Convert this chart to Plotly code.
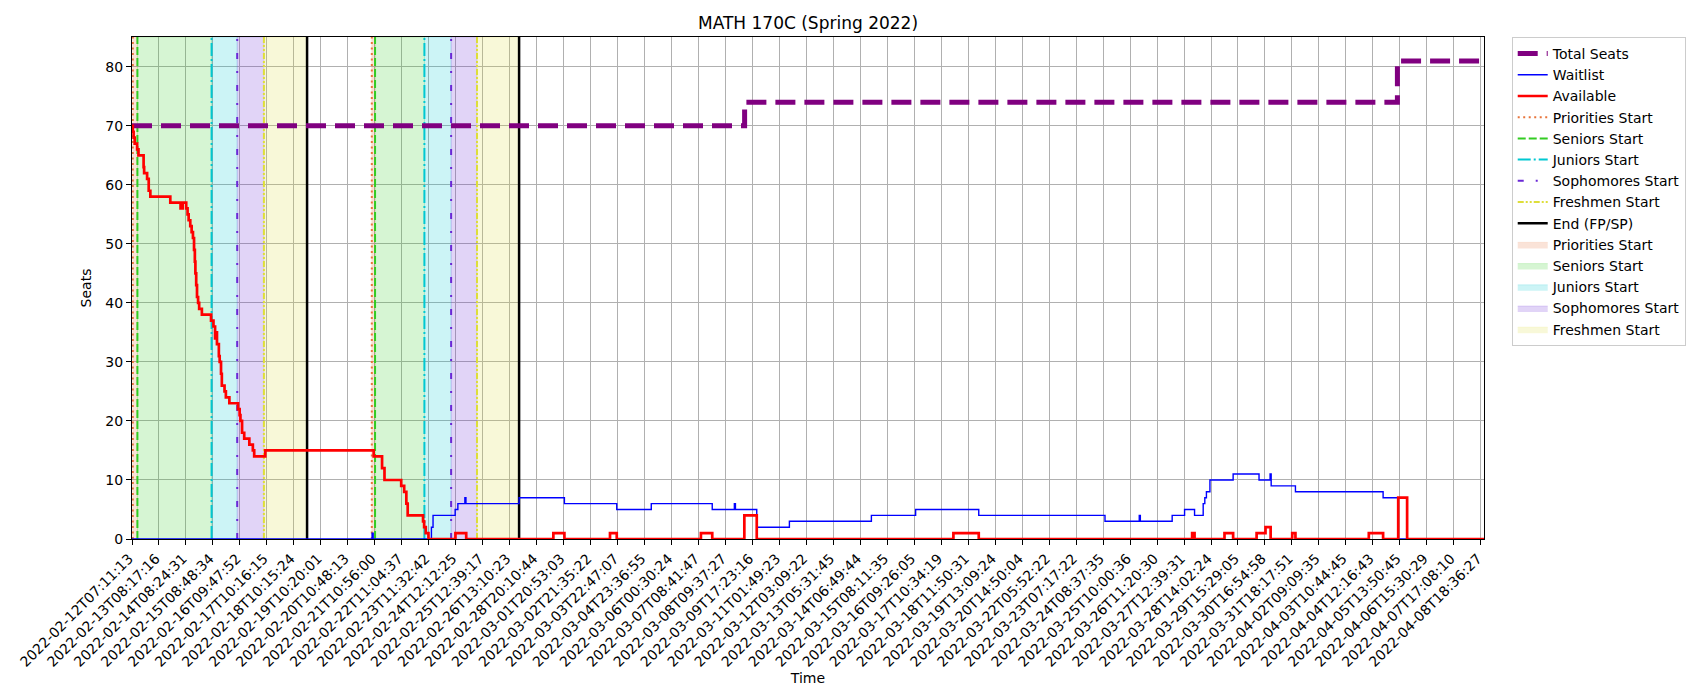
import plotly.graph_objects as go

# Tick labels (one every N snapshots on the categorical time axis)
tick_labels = [
    "2022-02-12T07:11:13", "2022-02-13T08:17:16", "2022-02-14T08:24:31", "2022-02-15T08:48:34",
    "2022-02-16T09:47:52", "2022-02-17T10:16:15", "2022-02-18T10:15:24", "2022-02-19T10:20:01",
    "2022-02-20T10:48:13", "2022-02-21T10:56:00", "2022-02-22T11:04:37", "2022-02-23T11:32:42",
    "2022-02-24T12:12:25", "2022-02-25T12:39:17", "2022-02-26T13:10:23", "2022-02-28T20:10:44",
    "2022-03-01T20:53:03", "2022-03-02T21:35:22", "2022-03-03T22:47:07", "2022-03-04T23:36:55",
    "2022-03-06T00:30:24", "2022-03-07T08:41:47", "2022-03-08T09:37:27", "2022-03-09T17:23:16",
    "2022-03-11T01:49:23", "2022-03-12T03:09:22", "2022-03-13T05:31:45", "2022-03-14T06:49:44",
    "2022-03-15T08:11:35", "2022-03-16T09:26:05", "2022-03-17T10:34:19", "2022-03-18T11:50:31",
    "2022-03-19T13:09:24", "2022-03-20T14:50:04", "2022-03-22T05:52:22", "2022-03-23T07:17:22",
    "2022-03-24T08:37:35", "2022-03-25T10:00:36", "2022-03-26T11:20:30", "2022-03-27T12:39:31",
    "2022-03-28T14:02:24", "2022-03-29T15:29:05", "2022-03-30T16:54:58", "2022-03-31T18:17:51",
    "2022-04-02T09:09:35", "2022-04-03T10:44:45", "2022-04-04T12:16:43", "2022-04-05T13:50:45",
    "2022-04-06T15:30:29", "2022-04-07T17:08:10", "2022-04-08T18:36:27",
]

# series as step change points (x in tick-label units)
total_x = [0.0, 22.71, 46.91, 50.12]
total_y = [70, 74, 81, 81]

wait_x = [0.0, 8.90, 8.94, 11.10, 11.16, 11.98, 12.08, 12.34, 12.38, 14.35, 16.03, 17.97,
          19.25, 21.51, 22.33, 22.37, 23.16, 24.37, 27.41, 29.05, 31.39, 36.07, 37.34, 37.38,
          38.56, 39.02, 39.39, 39.71, 39.77, 39.83, 39.96, 40.82, 41.78, 42.19, 42.23, 43.13,
          46.38, 46.94, 50.12]
wait_y = [0, 1, 0, 2, 4, 5, 6, 7, 6, 7, 6, 5,
          6, 5, 6, 5, 2, 3, 4, 5, 4, 3, 4, 3,
          4, 5, 4, 6, 7, 8, 10, 11, 10, 11, 9, 8,
          7, 0, 0]

avail_x = [0.0, 0.03, 0.06, 0.10, 0.19, 0.24, 0.43, 0.45, 0.56, 0.62, 0.68, 1.42, 1.80, 1.83,
           1.86, 1.88, 2.01, 2.06, 2.10, 2.16, 2.21, 2.26, 2.30, 2.33, 2.35, 2.38, 2.41, 2.45,
           2.49, 2.59, 2.93, 3.02, 3.08, 3.11, 3.15, 3.22, 3.25, 3.30, 3.33, 3.43, 3.48, 3.61,
           3.93, 3.99, 4.02, 4.08, 4.16, 4.35, 4.48, 4.53, 4.94, 8.96, 9.27, 9.36, 9.98, 10.09,
           10.17, 10.22, 10.79, 10.83, 10.89, 10.99, 11.99, 12.39, 15.62, 16.03, 17.72, 17.97,
           21.09, 21.51, 22.70, 23.16, 30.45, 31.39, 39.30, 39.39, 40.50, 40.82, 41.69, 42.02,
           42.21, 43.01, 43.13, 45.85, 46.38, 46.94, 47.27, 50.12]
avail_y = [70, 69, 68, 67, 66, 65, 63, 62, 61, 59, 58, 57, 56, 57,
           56, 57, 56, 55, 54, 53, 52, 51, 49, 47, 45, 43, 41, 40,
           39, 38, 37, 36, 34, 35, 33, 31, 30, 28, 26, 25, 24, 23,
           22, 21, 20, 18, 17, 16, 15, 14, 15, 14, 12, 10, 9, 8,
           6, 4, 3, 2, 1, 0, 1, 0, 1, 0, 1, 0,
           1, 0, 4, 0, 1, 0, 1, 0, 1, 0, 1, 2,
           0, 1, 0, 1, 0, 7, 0, 0]

# enrollment phase starts (two passes: first pass / second pass)
priorities_start = [0.03, 8.89]
seniors_start = [0.20, 9.01]
juniors_start = [2.95, 10.84]
sophomores_start = [3.90, 11.83]
freshmen_start = [4.89, 12.79]
end_fpsp = [6.49, 14.35]

Y_TOP = 85.05
X_END = 50.12

phases = [
    ("Priorities Start", priorities_start, seniors_start, "#e8743b", "2px,3.5px", "rgba(232,116,59,0.2)"),
    ("Seniors Start", seniors_start, juniors_start, "#33cc22", "8px,3px", "rgba(51,204,34,0.2)"),
    ("Juniors Start", juniors_start, sophomores_start, "#00c8d2", "13px,3px,2px,3px", "rgba(0,200,210,0.2)"),
    ("Sophomores Start", sophomores_start, freshmen_start, "#6a28d6", "6px,12px,2px,12px", "rgba(106,40,214,0.2)"),
    ("Freshmen Start", freshmen_start, end_fpsp, "#dede3a", "6px,2px,2px,2px,2px,2px", "rgba(222,222,58,0.2)"),
]

fig = go.Figure()

# shaded spans
rank = 200
for name, starts, ends, col, dash, fillcol in phases:
    xs, ys = [], []
    for s, e in zip(starts, ends):
        xs += [s, e, e, s, s, None]
        ys += [0, 0, Y_TOP, Y_TOP, 0, None]
    fig.add_trace(go.Scatter(x=xs, y=ys, fill="toself", fillcolor=fillcol, mode="lines",
                             line=dict(width=0.8, color=fillcol), name=name,
                             legendrank=rank, hoverinfo="skip"))
    rank += 1

# phase start lines
rank = 100
for name, starts, ends, col, dash, fillcol in phases:
    xs, ys = [], []
    for s in starts:
        xs += [s, s, None]
        ys += [0, Y_TOP, None]
    fig.add_trace(go.Scatter(x=xs, y=ys, mode="lines", line=dict(color=col, width=2, dash=dash),
                             name=name, legendrank=rank))
    rank += 1

xs, ys = [], []
for s in end_fpsp:
    xs += [s, s, None]
    ys += [0, Y_TOP, None]
fig.add_trace(go.Scatter(x=xs, y=ys, mode="lines", line=dict(color="black", width=2.5),
                         name="End (FP/SP)", legendrank=150))

fig.add_trace(go.Scatter(x=total_x, y=total_y, mode="lines", line_shape="hv",
                         line=dict(color="purple", width=5, dash="20px,9px"),
                         name="Total Seats", legendrank=1))
fig.add_trace(go.Scatter(x=wait_x, y=wait_y, mode="lines", line_shape="hv",
                         line=dict(color="blue", width=1.4), name="Waitlist", legendrank=2))
fig.add_trace(go.Scatter(x=avail_x, y=avail_y, mode="lines", line_shape="hv",
                         line=dict(color="red", width=2.7), name="Available", legendrank=3))

# page body has an 8px margin, so the figure is a bit smaller than the window
fig.update_layout(
    width=1692, height=692,
    plot_bgcolor="white", paper_bgcolor="white",
    font=dict(family="DejaVu Sans", size=14, color="black"),
    title=dict(text="MATH 170C (Spring 2022)", x=0.5, xref="paper", xanchor="center",
               y=0.9786, yref="container", yanchor="middle", font=dict(size=17)),
    margin=dict(l=124, r=216, t=29, b=161),
    legend=dict(x=1.0205, y=1, xanchor="left", yanchor="top", bordercolor="#cccccc", borderwidth=1,
                font=dict(size=14), traceorder="normal", itemwidth=30, tracegroupgap=0),
    showlegend=True,
)
fig.update_xaxes(
    range=[0, X_END], tickmode="array", tickvals=list(range(len(tick_labels))), ticktext=tick_labels,
    tickangle=-45, showgrid=True, gridcolor="#b0b0b0", gridwidth=1, zeroline=False, automargin=False,
    showline=True, linecolor="black", linewidth=1, mirror=True, ticks="outside", ticklen=5,
    tickcolor="black", ticklabelshift=-3,
    title=dict(text="Time", font=dict(size=14), standoff=0),
)
fig.update_yaxes(
    range=[0, Y_TOP], tickvals=list(range(0, 90, 10)), showgrid=True, gridcolor="#b0b0b0", gridwidth=1,
    zeroline=False, showline=True, linecolor="black", linewidth=1, mirror=True, ticks="outside",
    automargin=False, ticklen=5, tickcolor="black", title=dict(text="Seats", font=dict(size=14), standoff=10),
)

fig.write_html("out.html")
